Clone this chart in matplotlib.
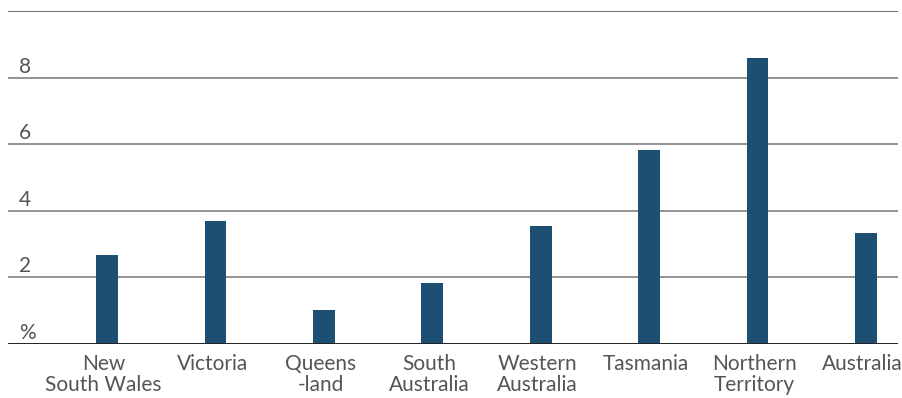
import matplotlib
matplotlib.use("Agg")
import matplotlib.pyplot as plt
import matplotlib.transforms as mtransforms

# data
regions = ["New\nSouth Wales", "Victoria", "Queens\n-land", "South\nAustralia",
           "Western\nAustralia", "Tasmania", "Northern\nTerritory", "Australia"]
values = [2.67, 3.69, 1.02, 1.83, 3.54, 5.83, 8.59, 3.33]
y_ticks = [0, 2, 4, 6, 8, 10]
y_labels = ["%", "2", "4", "6", "8", ""]

bar_color = "#1c4f72"
text_color = "#555555"

plt.rcParams['font.family'] = ['Lato', 'DejaVu Sans']

fig = plt.figure(figsize=(9.02, 3.98), dpi=100)
ax = fig.add_axes([8 / 902, 1 - 344 / 398, 890 / 902, 333 / 398])

x = list(range(len(regions)))
ax.bar(x, values, width=0.2, color=bar_color, zorder=3)

ax.set_xlim(-0.913, 7.295)
ax.set_ylim(0, 10)

# horizontal grid lines
for t in y_ticks:
    if t == 0:
        ax.axhline(t, color="#222222", lw=1.4, zorder=4)
    elif t == 10:
        ax.axhline(t, color="#555555", lw=1.2, zorder=1)
    else:
        ax.axhline(t, color="#8a8a8a", lw=1.3, zorder=1)

# y labels sit just above their grid line at the left edge
trans = mtransforms.blended_transform_factory(ax.transAxes, ax.transData)
for t, lab in zip(y_ticks, y_labels):
    if lab:
        ax.text(0.0125, t + 0.03, lab, transform=trans, ha="left", va="bottom",
                fontsize=15, color=text_color)

for xi, lab in zip(x, regions):
    ax.text(xi - 0.03, -0.3, lab, ha="center", va="top", fontsize=15,
            color=text_color, linespacing=1.08)

ax.set_xticks([])
ax.set_yticks([])
for s in ax.spines.values():
    s.set_visible(False)

fig.savefig("out.png", dpi=100)
